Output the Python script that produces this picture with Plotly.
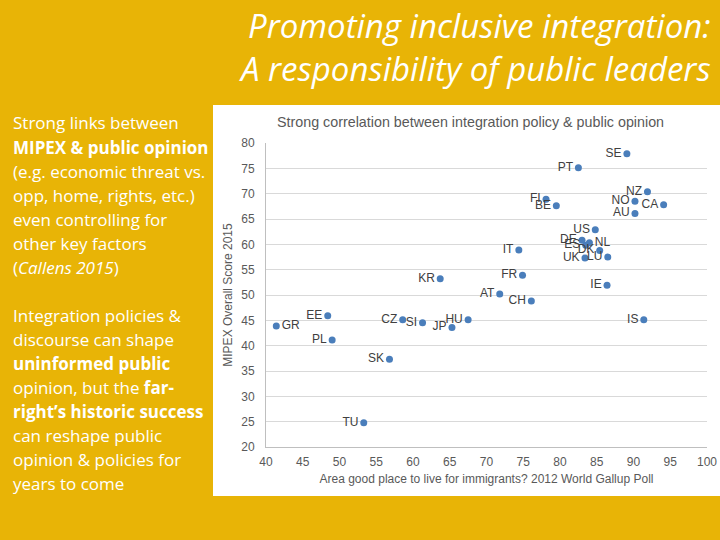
import plotly.graph_objects as go

countries = ["SE", "PT", "NZ", "FI", "BE", "NO", "CA", "AU", "US", "DE", "NL", "ES", "DK", "UK", "LU",
             "IT", "FR", "KR", "IE", "AT", "CH", "EE", "GR", "CZ", "SI", "JP", "HU", "IS", "PL", "SK", "TU"]
gallup = [89.1, 82.5, 91.9, 78.1, 79.5, 90.2, 94.1, 90.2, 84.8, 83.0, 84.0, 83.5, 85.4, 83.4, 86.5,
          74.4, 74.9, 63.7, 86.4, 71.8, 76.1, 48.4, 41.4, 58.6, 61.3, 65.3, 67.5, 91.4, 49.0, 56.8, 53.3]
mipex = [77.9, 75.1, 70.4, 68.9, 67.6, 68.5, 67.8, 66.1, 62.9, 60.8, 60.3, 59.8, 58.8, 57.3, 57.5,
         58.9, 53.9, 53.2, 51.9, 50.2, 48.8, 45.9, 43.9, 45.1, 44.5, 43.6, 45.1, 45.1, 41.1, 37.3, 24.8]
right_labels = {"GR", "NL"}

title_lines = ["Promoting inclusive integration:", "A responsibility of public leaders"]
left_lines = [
    "Strong links between",
    "<b>MIPEX &amp; public opinion</b>",
    "(e.g. economic threat vs.",
    "opp, home, rights, etc.)",
    "even controlling for",
    "other key factors",
    "(<i>Callens 2015</i>)",
    "Integration policies &amp;",
    "discourse can shape",
    "<b>uninformed public</b>",
    "opinion, but the <b>far-</b>",
    "<b>right\u2019s historic success</b>",
    "can reshape public",
    "opinion &amp; policies for",
    "years to come",
]
left_centers = [123, 147, 171, 195, 219, 243, 267, 315, 339, 363, 387, 411, 435, 459, 483]

GOLD = "#E8B406"
L, R, T, B = 266, 707, 143, 447


def px(xp):
    return (xp - L) / (R - L)


def py(yp):
    return (B - yp) / (B - T)


positions = ["middle right" if c in right_labels else "middle left" for c in countries]

fig = go.Figure(go.Scatter(
    x=gallup, y=mipex, mode="markers+text", text=countries, textposition=positions,
    marker=dict(color="#4A7EBB", size=7),
    textfont=dict(family="Liberation Sans, Arial", size=12, color="#404040"),
    cliponaxis=False, hoverinfo="skip",
))

shapes = [dict(type="rect", xref="paper", yref="paper", x0=px(213), x1=px(722), y0=py(496), y1=py(105),
               fillcolor="white", line=dict(width=0), layer="below")]

annotations = []
for i, t in enumerate(title_lines):
    annotations.append(dict(xref="paper", yref="paper", x=px(713), y=py([26, 69][i]), xanchor="right",
                            yanchor="middle", text="<i>" + t + "</i>", showarrow=False,
                            font=dict(family="Open Sans", size=33, color="white")))
for t, c in zip(left_lines, left_centers):
    annotations.append(dict(xref="paper", yref="paper", x=px(11), y=py(c), xanchor="left",
                            yanchor="middle", text=t, showarrow=False,
                            font=dict(family="Open Sans", size=17, color="white")))
annotations.append(dict(xref="paper", yref="paper", x=px(470), y=py(122), xanchor="center", yanchor="middle",
                        text="Strong correlation between integration policy &amp; public opinion", showarrow=False,
                        font=dict(family="Liberation Sans, Arial", size=14.3, color="#595959")))

fig.update_layout(
    width=720, height=540, autosize=False,
    margin=dict(l=L, r=720 - R, t=T, b=540 - B),
    paper_bgcolor=GOLD, plot_bgcolor="white",
    showlegend=False, shapes=shapes, annotations=annotations,
    xaxis=dict(range=[40, 100], dtick=5, showgrid=False, zeroline=False, automargin=False,
               showline=True, linecolor="#BFBFBF", linewidth=1,
               ticks="outside", ticklen=4, tickcolor="rgba(0,0,0,0)",
               tickfont=dict(family="Liberation Sans, Arial", size=12, color="#595959"),
               title=dict(text="Area good place to live for immigrants? 2012 World Gallup Poll",
                          font=dict(family="Liberation Sans, Arial", size=12, color="#595959"), standoff=6)),
    yaxis=dict(range=[20, 80], dtick=5, showgrid=True, gridcolor="#D9D9D9", zeroline=False, automargin=False,
               showline=True, linecolor="#BFBFBF", linewidth=1,
               ticks="outside", ticklen=8, tickcolor="rgba(0,0,0,0)",
               tickfont=dict(family="Liberation Sans, Arial", size=12, color="#595959"),
               title=dict(text="MIPEX Overall Score 2015",
                          font=dict(family="Liberation Sans, Arial", size=12, color="#595959"), standoff=6)),
)

fig.write_html("out.html", config={"displayModeBar": False},
               post_script="document.body.style.margin='0';document.body.style.overflow='hidden';")
